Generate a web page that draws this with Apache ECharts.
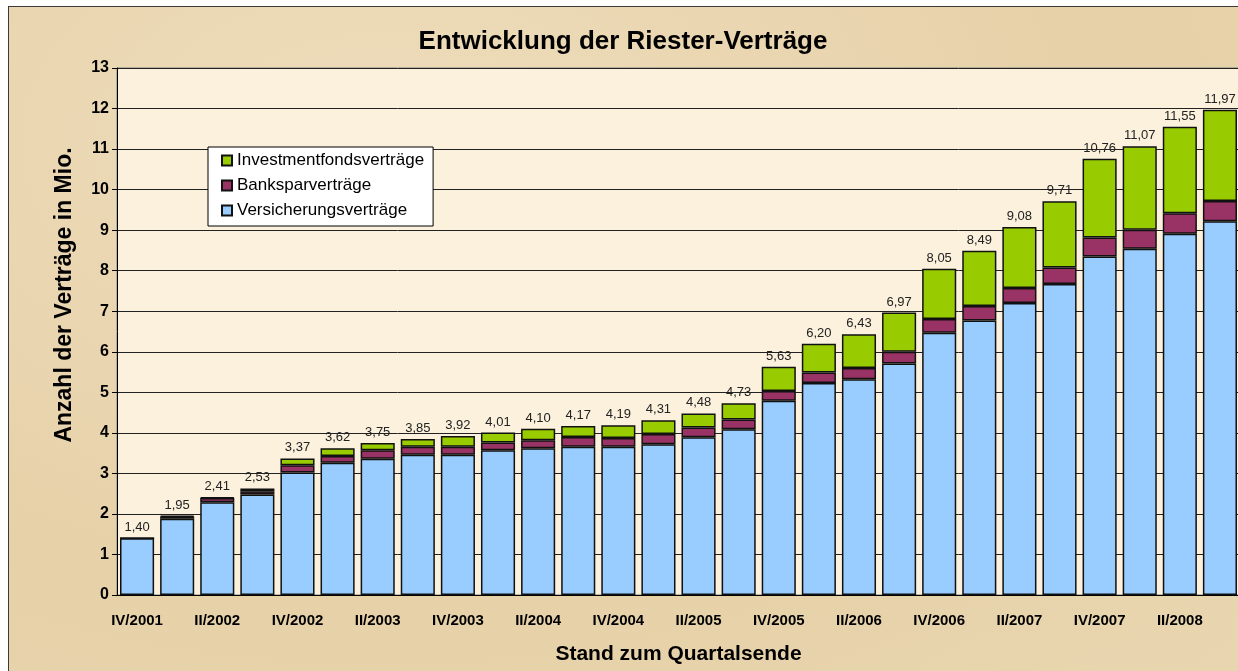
<!DOCTYPE html>
<html>
<head>
<meta charset="utf-8">
<title>Entwicklung der Riester-Verträge</title>
<script src="https://cdn.jsdelivr.net/npm/echarts@6/dist/echarts.min.js"></script>
<style>
	html, body { margin: 0; padding: 0; background: #fff; overflow: hidden; }
	#frame {
		position: absolute; left: 8px; top: 6px; width: 1240px; height: 680px;
		border: 1.5px solid #3a3a3a;
		background: #e9d6b0;
		background-image: radial-gradient(ellipse at 30% 20%, #eedcbb 0%, #e6d1a8 60%, #e9d6b0 100%);
	}
	#main { position: absolute; left: 0; top: 0; width: 1238px; height: 671px; }
</style>
</head>
<body>
<div id="frame"></div>
<div id="main"></div>
<script>
// Quartale IV/2001 bis III/2008
var quarters = ['IV/2001', 'I/2002', 'II/2002', 'III/2002', 'IV/2002', 'I/2003', 'II/2003', 'III/2003',
	'IV/2003', 'I/2004', 'II/2004', 'III/2004', 'IV/2004', 'I/2005', 'II/2005', 'III/2005',
	'IV/2005', 'I/2006', 'II/2006', 'III/2006', 'IV/2006', 'I/2007', 'II/2007', 'III/2007',
	'IV/2007', 'I/2008', 'II/2008', 'III/2008'];

// Werte in Mio.
var versicherung = [1.40, 1.88, 2.29, 2.48, 3.02, 3.26, 3.36, 3.46, 3.46, 3.57, 3.62, 3.66, 3.66, 3.72,
	3.89, 4.09, 4.79, 5.23, 5.32, 5.71, 6.47, 6.77, 7.20, 7.67, 8.35, 8.54, 8.91, 9.22];
var banksparen = [0, 0.05, 0.10, 0.08, 0.18, 0.17, 0.21, 0.20, 0.20, 0.19, 0.20, 0.24, 0.21, 0.25,
	0.24, 0.24, 0.24, 0.26, 0.28, 0.29, 0.34, 0.36, 0.37, 0.41, 0.47, 0.47, 0.51, 0.50];
var investment = [0, 0.02, 0.02, 0.07, 0.17, 0.19, 0.18, 0.19, 0.26, 0.25, 0.28, 0.27, 0.32, 0.34,
	0.35, 0.40, 0.60, 0.71, 0.83, 0.97, 1.24, 1.36, 1.51, 1.63, 1.94, 2.06, 2.13, 2.25];
var totals = [1.40, 1.95, 2.41, 2.53, 3.37, 3.62, 3.75, 3.85, 3.92, 4.01, 4.10, 4.17, 4.19, 4.31,
	4.48, 4.73, 5.63, 6.20, 6.43, 6.97, 8.05, 8.49, 9.08, 9.71, 10.76, 11.07, 11.55, 11.97];
var yTicks = [0, 13, 1];

var font = 'Liberation Sans, Arial, sans-serif';

var myChart = echarts.init(document.getElementById('main'), null, { renderer: 'canvas' });

var barStyle = function(color) {
	return { color: color, borderColor: '#111', borderWidth: 1.5 };
};

var option = {
	backgroundColor: 'transparent',
	animation: false,
	textStyle: { fontFamily: font },
	graphic: [
		{
			type: 'text', x: 623, y: 42,
			style: {
				text: 'Entwicklung der Riester-Verträge',
				font: 'bold 26px ' + font, fill: '#000',
				textAlign: 'center', textVerticalAlign: 'middle'
			}
		},
		{
			type: 'text', x: 65, y: 295, rotation: Math.PI / 2,
			style: {
				text: 'Anzahl der Verträge in Mio.',
				font: 'bold 23px ' + font, fill: '#000',
				textAlign: 'center', textVerticalAlign: 'middle'
			}
		}
	],
	legend: {
		orient: 'vertical',
		left: 208,
		top: 147,
		data: ['Investmentfondsverträge', 'Banksparverträge', 'Versicherungsverträge'],
		backgroundColor: '#fff',
		borderColor: '#000',
		borderWidth: 1,
		padding: [5, 9, 7, 13],
		itemWidth: 10,
		itemHeight: 10,
		itemGap: 8,
		icon: 'rect',
		textStyle: { fontSize: 17, color: '#000', fontFamily: font, lineHeight: 17 }
	},
	grid: {
		left: 117,
		top: 68,
		width: 1123,
		height: 527,
		outerBoundsMode: 'none',
		show: true,
		backgroundColor: '#fbf1dc',
		borderColor: '#808080',
		borderWidth: 1
	},
	xAxis: {
		type: 'category',
		data: quarters,
		name: 'Stand zum Quartalsende',
		nameLocation: 'middle',
		nameGap: 49,
		nameMoveOverlap: false,
		nameTextStyle: { fontSize: 21, fontWeight: 'bold', color: '#000', fontFamily: font },
		axisLine: { lineStyle: { color: '#000', width: 1 } },
		axisTick: { interval: 0, length: 5, lineStyle: { color: '#000' } },
		axisLabel: { interval: 1, fontSize: 15, fontWeight: 'bold', color: '#000', margin: 18 }
	},
	yAxis: {
		type: 'value',
		min: yTicks[0],
		max: yTicks[1],
		interval: yTicks[2],
		axisLine: { show: true, lineStyle: { color: '#000', width: 1 } },
		axisTick: { show: true, length: 5, lineStyle: { color: '#000' } },
		axisLabel: { fontSize: 16, fontWeight: 'bold', color: '#000', margin: 8 },
		splitLine: { lineStyle: { color: '#222', width: 1 } }
	},
	series: [
		{
			name: 'Versicherungsverträge',
			type: 'bar',
			stack: 'gesamt',
			barCategoryGap: '15%',
			data: versicherung,
			itemStyle: barStyle('#99ccff')
		},
		{
			name: 'Banksparverträge',
			type: 'bar',
			stack: 'gesamt',
			barCategoryGap: '15%',
			data: banksparen,
			itemStyle: barStyle('#993366')
		},
		{
			name: 'Investmentfondsverträge',
			type: 'bar',
			stack: 'gesamt',
			barCategoryGap: '15%',
			data: investment,
			itemStyle: barStyle('#99cc00'),
			label: {
				show: true,
				position: 'top',
				distance: 4,
				fontFamily: font,
				fontSize: 13,
				color: '#222',
				formatter: function(p) {
					return totals[p.dataIndex].toFixed(2).replace('.', ',');
				}
			}
		}
	]
};
myChart.setOption(option);
</script>
</body>
</html>
